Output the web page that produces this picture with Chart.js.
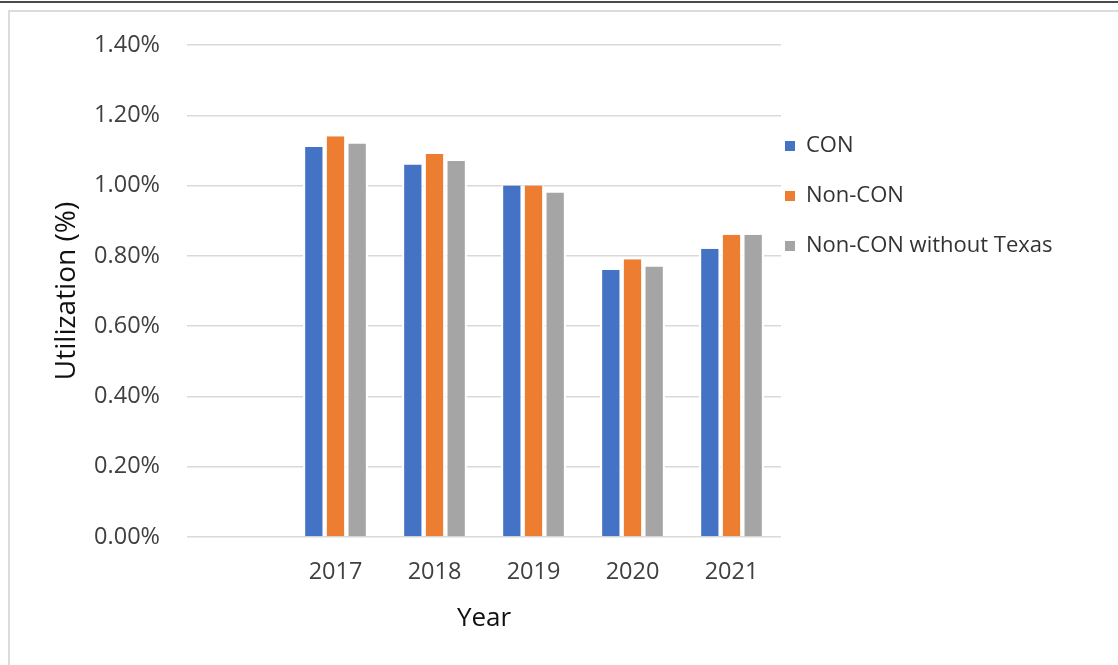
<!DOCTYPE html>
<html>
<head>
<meta charset="utf-8">
<script src="https://cdn.jsdelivr.net/npm/chart.js@4.4.0/dist/chart.umd.min.js"></script>
<style>
  html, body { margin: 0; padding: 0; background: #fff; }
  #wrap { position: relative; width: 1118px; height: 665px; overflow: hidden; }
  #topline { position: absolute; left: 0; top: 1px; width: 1118px; height: 2px; background: #4a4a4a; }
  #frame { position: absolute; left: 8px; top: 10px; width: 1120px; height: 670px;
           border-top: 2px solid #dcdcdc; border-left: 2px solid #dcdcdc; }
  #chart { position: absolute; left: 0; top: 0; }
  #legend { position: absolute; left: 785px; top: 129px; font-family: "Open Sans", sans-serif;
            font-size: 22px; color: #333; }
  .item { height: 50px; line-height: 28px; white-space: nowrap; }
  .box { display: inline-block; width: 10px; height: 10px; margin-right: 11px; vertical-align: 1px; }
</style>
</head>
<body>
<div id="wrap">
  <div id="topline"></div>
  <div id="frame"></div>
  <canvas id="chart" width="1118" height="665"></canvas>
  <div id="legend"></div>
</div>
<script>
// data (percent)
const years = ["", "2017", "2018", "2019", "2020", "2021"];
const con = [null, 1.11, 1.06, 1.00, 0.76, 0.82];
const nonCon = [null, 1.14, 1.09, 1.00, 0.79, 0.86];
const nonConNoTexas = [null, 1.12, 1.07, 0.98, 0.77, 0.86];

const seriesNames = ["CON", "Non-CON", "Non-CON without Texas"];
const seriesColors = ["#4472C4", "#ED7D31", "#A5A5A5"];

const font = "'Open Sans', sans-serif";

function makeSet(i, values) {
  return {
    label: seriesNames[i],
    data: values,
    backgroundColor: seriesColors[i],
    borderColor: "#ffffff",
    borderWidth: { left: 2.2, right: 2.2, top: 0, bottom: 0 },
    borderSkipped: false,
    inflateAmount: 0,
    categoryPercentage: 0.657,
    barPercentage: 1
  };
}

new Chart(document.getElementById("chart"), {
  type: "bar",
  data: {
    labels: years,
    datasets: [makeSet(0, con), makeSet(1, nonCon), makeSet(2, nonConNoTexas)]
  },
  options: {
    responsive: false,
    animation: false,
    layout: { padding: { left: 0, top: 45, right: 337, bottom: 0 } },
    plugins: {
      legend: { display: false },
      tooltip: { enabled: false }
    },
    scales: {
      x: {
        grid: { display: false, drawTicks: false },
        border: { display: false },
        ticks: { padding: 21, color: "#404040", font: { family: font, size: 23.5 } },
        title: { display: true, text: "Year", color: "#111", padding: { top: 0, bottom: 31 },
                 font: { family: font, size: 26 } },
        afterFit: function (scale) { scale.height = 128; }
      },
      y: {
        min: 0,
        max: 1.4,
        grid: { color: "#d9d9d9", lineWidth: 1.5, drawTicks: false },
        border: { display: false },
        ticks: {
          stepSize: 0.2,
          padding: 27,
          color: "#404040",
          font: { family: font, size: 23.5 },
          callback: function (v) { return v.toFixed(2) + "%"; }
        },
        title: { display: true, text: "Utilization (%)", color: "#111", padding: { top: 50, bottom: 0 },
                 font: { family: font, size: 28 } },
        afterFit: function (scale) { scale.width = 187; }
      }
    }
  }
});

// legend
const legend = document.getElementById("legend");
seriesNames.forEach(function (name, i) {
  const row = document.createElement("div");
  row.className = "item";
  const box = document.createElement("span");
  box.className = "box";
  box.style.background = seriesColors[i];
  row.appendChild(box);
  row.appendChild(document.createTextNode(name));
  legend.appendChild(row);
});
</script>
</body>
</html>
